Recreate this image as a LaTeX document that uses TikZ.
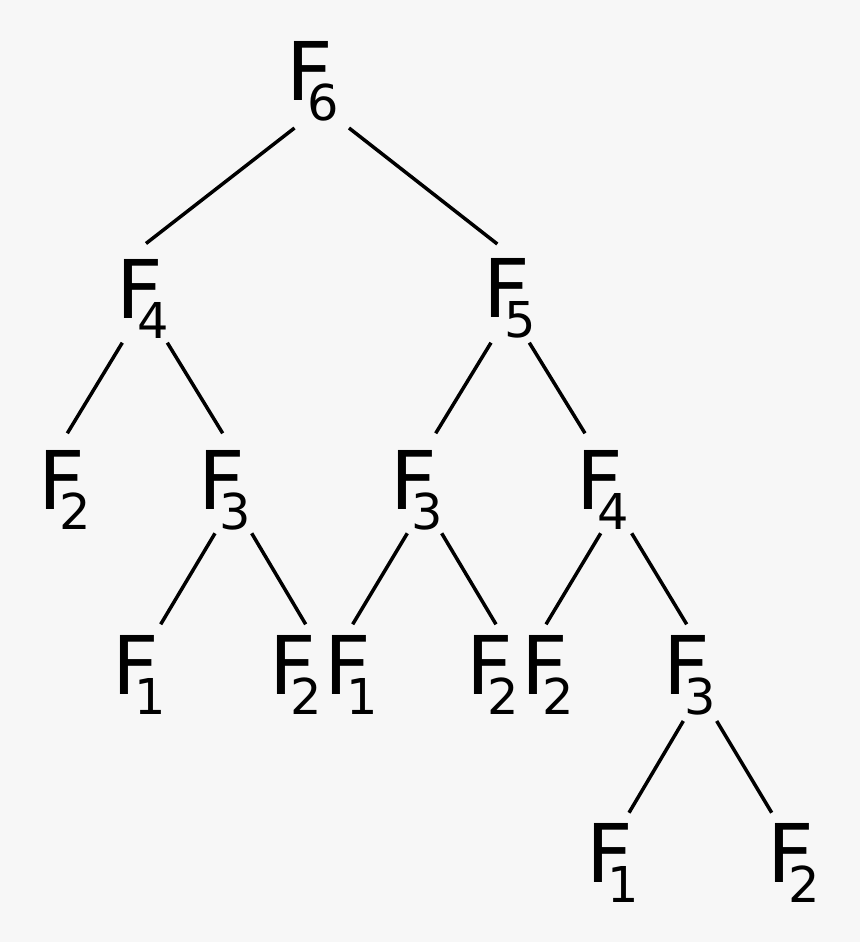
\documentclass[tikz,border=0pt]{standalone}
\usepackage{fontspec}
\setmainfont{DejaVu Sans}
\usetikzlibrary{calc}
\definecolor{bgcol}{HTML}{F7F7F7}
\newcommand\fibl[1]{\rlap{\fontsize{81}{81}\selectfont F}\hspace*{21.3pt}\raisebox{-20pt}{\fontsize{49.4}{49.4}\selectfont #1}}
\tikzset{
  fib/.style={inner sep=0pt, outer sep=0pt, anchor=base west, text=black},
  edge/.style={draw=black, line width=3.5pt}
}
\begin{document}
\begin{tikzpicture}[x=1pt,y=-1pt]
\fill[bgcol] (0,0) rectangle (860,942);
\useasboundingbox (0,0) rectangle (860,942);
% nodes (positioned at base west of F)
\node[fib] (f6)  at (286.4,100.7) {\fibl{6}};
\node[fib] (f4)  at (116.4,318)   {\fibl{4}};
\node[fib] (f5)  at (483.1,317.5) {\fibl{5}};
\node[fib] (f2a) at (38.1,509)    {\fibl{2}};
\node[fib] (f3a) at (198.1,509)   {\fibl{3}};
\node[fib] (f3b) at (390.4,509)   {\fibl{3}};
\node[fib] (f4b) at (576.1,509)   {\fibl{4}};
\node[fib] (f1a) at (112.8,694)   {\fibl{1}};
\node[fib] (f2b) at (269.1,694)   {\fibl{2}};
\node[fib] (f1b) at (324.8,694)   {\fibl{1}};
\node[fib] (f2c) at (466.1,694)   {\fibl{2}};
\node[fib] (f2d) at (521.4,694)   {\fibl{2}};
\node[fib] (f3c) at (663.1,694)   {\fibl{3}};
\node[fib] (f1c) at (586.4,882.5) {\fibl{1}};
\node[fib] (f2e) at (767.1,882.5) {\fibl{2}};
% edges
\draw[edge] ($(f6.base west)+(8.1,27.3)$)  -- ($(f4.base west)+(29.6,-74.5)$);
\draw[edge] ($(f6.base west)+(62.6,27.3)$) -- ($(f5.base west)+(14.2,-73.5)$);
\draw[edge] ($(f4.base west)+(5.9,24.7)$)  -- ($(f2a.base west)+(29.2,-75.7)$);
\draw[edge] ($(f4.base west)+(50.9,24.7)$) -- ($(f3a.base west)+(24.6,-75.7)$);
\draw[edge] ($(f5.base west)+(7.9,25.2)$)  -- ($(f3b.base west)+(45.3,-75.7)$);
\draw[edge] ($(f5.base west)+(46.2,25.2)$) -- ($(f4b.base west)+(8.9,-75.7)$);
\draw[edge] ($(f3a.base west)+(16.9,24.3)$) -- ($(f1a.base west)+(47.9,-69.7)$);
\draw[edge] ($(f3a.base west)+(53.6,24.3)$) -- ($(f2b.base west)+(36.6,-69.7)$);
\draw[edge] ($(f3b.base west)+(16.9,24.3)$) -- ($(f1b.base west)+(27.9,-69.7)$);
\draw[edge] ($(f3b.base west)+(51.3,24.3)$) -- ($(f2c.base west)+(29.9,-69.7)$);
\draw[edge] ($(f4b.base west)+(24.6,24.3)$) -- ($(f2d.base west)+(24.6,-69.7)$);
\draw[edge] ($(f4b.base west)+(55.6,24.3)$) -- ($(f3c.base west)+(23.6,-69.7)$);
\draw[edge] ($(f3c.base west)+(20.2,27)$)   -- ($(f1c.base west)+(42.6,-69.8)$);
\draw[edge] ($(f3c.base west)+(53.6,27)$)   -- ($(f2e.base west)+(4.6,-69.8)$);
\end{tikzpicture}
\end{document}
